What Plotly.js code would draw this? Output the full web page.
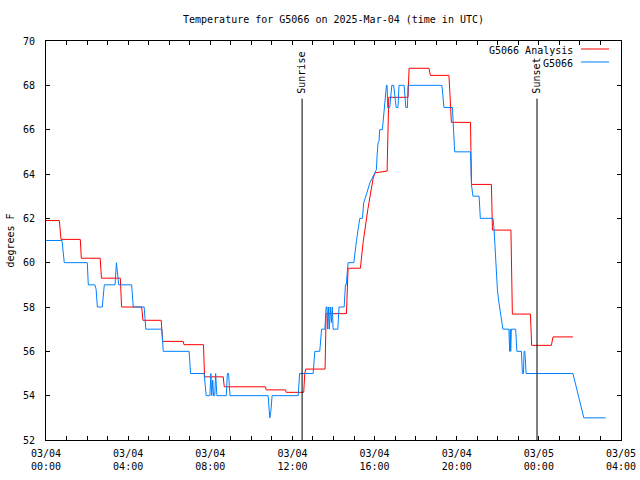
<!DOCTYPE html>
<html><head><meta charset="utf-8">
<script src="https://cdn.plot.ly/plotly-3.0.1.min.js"></script>
<style>html,body{margin:0;padding:0;background:#fff}#chart{width:640px;height:480px}</style>
</head><body><div id="chart"></div>
<script>
// Hours since 03/04 00:00 UTC
const analysisHours = [0, 0.65, 0.73, 1.67, 1.72, 2.64, 2.70, 3.62, 3.68, 4.66, 4.72, 5.61, 5.68, 6.68, 6.72, 7.67, 7.72, 8.63, 8.68, 10.69, 10.72, 11.66, 11.70, 12.55, 12.60, 12.65, 13.59, 13.64, 14.63, 14.71, 15.31, 15.44, 15.68, 15.93, 16.02, 16.61, 16.69, 17.63, 17.68, 18.65, 18.72, 19.62, 19.66, 19.70, 19.74, 20.67, 20.72, 21.69, 21.74, 22.64, 22.69, 22.71, 23.59, 23.65, 24.61, 24.69, 25.66];
const analysisTemps = [61.9, 61.9, 61.05, 61.05, 60.2, 60.2, 59.3, 59.3, 58.0, 58.0, 57.4, 57.4, 56.45, 56.45, 56.3, 56.3, 54.85, 54.85, 54.4, 54.4, 54.26, 54.26, 54.15, 54.15, 55.0, 55.2, 55.2, 57.7, 57.7, 59.75, 59.75, 60.9, 62.45, 63.8, 64.05, 64.13, 67.46, 67.46, 68.77, 68.77, 68.45, 68.45, 67.8, 66.6, 66.33, 66.33, 63.53, 63.53, 61.47, 61.47, 58.8, 57.68, 57.68, 56.27, 56.27, 56.65, 56.65];

const obsHours = [0, 0.78, 0.89, 2.01, 2.06, 2.38, 2.44, 2.50, 2.74, 2.84, 3.36, 3.43, 3.54, 4.17, 4.25, 4.78, 4.86, 5.64, 5.71, 6.97, 7.04, 7.70, 7.80, 7.98, 8.03, 8.07, 8.12, 8.16, 8.22, 8.26, 8.32, 8.78, 8.83, 8.89, 8.96, 10.82, 10.87, 10.90, 10.95, 11.01, 12.28, 12.35, 13.01, 13.09, 13.33, 13.42, 13.58, 13.64, 13.68, 13.72, 13.75, 13.80, 13.84, 13.90, 13.94, 13.98, 14.21, 14.27, 14.52, 14.58, 14.62, 14.71, 14.99, 15.07, 15.12, 15.20, 15.28, 15.41, 15.47, 15.61, 15.77, 15.96, 16.01, 16.09, 16.12, 16.17, 16.22, 16.25, 16.38, 16.41, 16.46, 16.50, 16.55, 16.58, 16.61, 16.64, 16.74, 16.78, 16.84, 16.93, 16.97, 17.05, 17.14, 17.19, 17.44, 17.48, 17.52, 17.60, 17.63, 19.28, 19.38, 19.79, 19.84, 19.90, 20.67, 20.72, 20.79, 21.09, 21.15, 21.77, 21.82, 21.87, 21.93, 21.98, 22.04, 22.09, 22.14, 22.19, 22.25, 22.54, 22.58, 22.61, 22.63, 22.66, 22.87, 22.93, 23.15, 23.20, 23.25, 23.28, 23.32, 23.38, 25.66, 26.19, 27.25];
const obsTemps = [61, 61, 60, 60, 59, 59, 58.8, 58, 58, 59, 59, 60, 59, 59, 58, 58, 57, 57, 56, 56, 55, 55, 54, 54, 55, 54, 54.7, 54, 54, 55, 54, 54, 55, 55, 54, 54, 53.3, 53, 53.3, 54, 54, 55, 55, 56, 56, 57, 57, 58, 58, 57, 58, 57, 58, 57.3, 58, 57, 57, 58, 58, 59, 59, 60, 60, 60.8, 61, 61.5, 62, 62, 62.7, 63.1, 63.6, 63.95, 64.06, 64.2, 64.8, 65.4, 65.5, 66, 66, 66.35, 66.8, 67.2, 67.8, 68, 68, 67, 67, 67.5, 68, 68, 67.6, 67, 67, 68, 68, 67.6, 67, 67, 68, 68, 67, 67, 66, 65, 65, 63.5, 63, 63, 62, 62, 61.5, 60.6, 59.5, 58.8, 58.3, 58, 57.7, 57.3, 57, 57, 56, 57, 56, 57, 57, 56, 56, 55, 55, 56, 56, 55, 55, 53, 53];

const seriesNames = ['G5066 Analysis', 'G5066'];
const seriesColors = ['#ff0000', '#0080ff'];
const eventNames = ['Sunrise', 'Sunset'];
const eventHours = [12.47, 23.91];
const majorTickHours = [0, 4, 8, 12, 16, 20, 24, 28];
const majorTickLabels = ['03/04<br>00:00', '03/04<br>04:00', '03/04<br>08:00', '03/04<br>12:00', '03/04<br>16:00', '03/04<br>20:00', '03/05<br>00:00', '03/05<br>04:00'];
const yTicks = [52, 54, 56, 58, 60, 62, 64, 66, 68, 70];

const tickVals = [];
const tickText = [];
for (let h = 0; h <= 28; h++) {
  tickVals.push(h);
  const i = majorTickHours.indexOf(h);
  tickText.push(i >= 0 ? majorTickLabels[i] : '');
}

const FONT = 'DejaVu Sans Mono, monospace';
const traces = [
  {x: analysisHours, y: analysisTemps, mode: 'lines', name: seriesNames[0], line: {color: seriesColors[0], width: 1}},
  {x: obsHours, y: obsTemps, mode: 'lines', name: seriesNames[1], line: {color: seriesColors[1], width: 1}}
];

const L = 46, R = 621, T = 41, B = 440;
const px = v => (v - L) / (R - L);
const py = v => (B - v) / (B - T);

const shapes = eventHours.map(h => ({type: 'line', xref: 'x', yref: 'y', x0: h, x1: h, y0: 52, y1: 67.4, line: {color: '#000', width: 1}}));
const annotations = eventNames.map((n, i) => ({
  text: n, x: eventHours[i], y: 67.4, xref: 'x', yref: 'y', showarrow: false,
  textangle: -90, xanchor: 'center', yanchor: 'bottom', yshift: 3,
  font: {family: FONT, size: 10, color: '#000'}
}));
const legendY = [49, 62];
seriesNames.forEach((n, i) => {
  annotations.push({text: n, xref: 'paper', yref: 'paper', x: px(575), y: py(legendY[i] + 1), xanchor: 'right', yanchor: 'middle', showarrow: false, font: {family: FONT, size: 10, color: '#000'}});
  shapes.push({type: 'line', xref: 'paper', yref: 'paper', x0: px(581), x1: px(609), y0: py(legendY[i]), y1: py(legendY[i]), line: {color: seriesColors[i], width: 1}});
});

const layout = {
  width: 640, height: 480,
  margin: {l: L, r: 640 - R, t: T, b: 480 - B},
  paper_bgcolor: '#fff', plot_bgcolor: '#fff',
  font: {family: FONT, size: 10, color: '#000'},
  showlegend: false,
  title: {text: 'Temperature for G5066 on 2025-Mar-04 (time in UTC)', x: 0.5, xref: 'paper', xanchor: 'center', y: 1 - 19 / 480, yref: 'container', yanchor: 'middle', font: {family: FONT, size: 10, color: '#000'}},
  xaxis: {range: [0, 28], tickmode: 'array', tickvals: tickVals, ticktext: tickText, ticks: 'inside', ticklen: 4, tickcolor: '#000', tickwidth: 1,
    showline: true, linecolor: '#000', linewidth: 1, mirror: 'ticks', showgrid: false, zeroline: false, ticklabelstandoff: 4, fixedrange: true},
  yaxis: {range: [52, 70], tickmode: 'array', tickvals: yTicks, ticks: 'inside', ticklen: 4, tickcolor: '#000', tickwidth: 1,
    showline: true, linecolor: '#000', linewidth: 1, mirror: 'ticks', showgrid: false, zeroline: false, ticklabelstandoff: 8,
    title: {text: 'degrees F', standoff: 6, font: {family: FONT, size: 10, color: '#000'}}},
  shapes: shapes,
  annotations: annotations
};

Plotly.newPlot('chart', traces, layout, {staticPlot: true, displayModeBar: false});
</script>
</body></html>
